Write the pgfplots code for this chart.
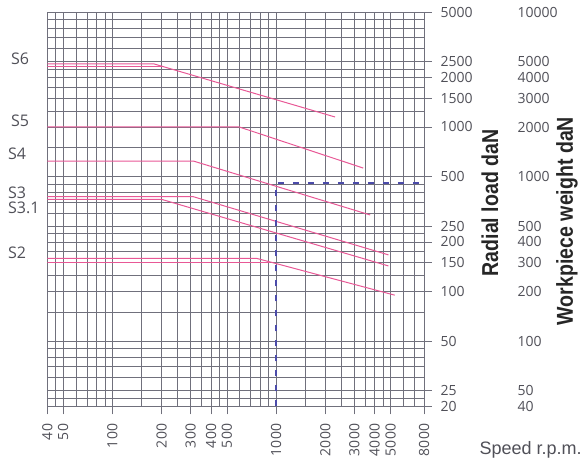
\documentclass[border=0pt]{standalone}
\usepackage{pgfplots}
\pgfplotsset{compat=1.18}
\usepackage{fontspec}
\setmainfont{Open Sans}
\newfontfamily\labfont{Liberation Sans}
\newfontfamily\boldcond[FakeStretch=0.85]{Liberation Sans Bold}
\definecolor{gridc}{RGB}{112,112,124}
\definecolor{pinkc}{RGB}{232,88,150}
\definecolor{dashc}{RGB}{75,75,170}
\definecolor{txtc}{RGB}{80,80,88}
\begin{document}
\begin{tikzpicture}
\path[use as bounding box] (0,0) rectangle (581bp,466bp);
\begin{axis}[
  scale only axis, width=376.7bp, height=394.5bp,
  at={(47.3bp,59.5bp)}, anchor=south west,
  xmode=log, ymode=log,
  xmin=40, xmax=8000, ymin=20, ymax=5000,
  xtick={40,50,100,200,300,400,500,1000,2000,3000,4000,5000,8000},
  xticklabels={40,50,100,200,300,400,500,1000,2000,3000,4000,5000,8000},
  minor xtick={45,60,70,80,90,150,250,350,450,600,700,800,900,1500,2500,3500,4500,6000,7000},
  ytick={20,25,50,100,150,200,250,500,1000,1500,2000,2500,5000},
  yticklabels={20,25,50,100,150,200,250,500,1000,1500,2000,2500,5000},
  minor ytick={22.5,30,35,40,45,75,125,175,225,300,350,400,450,750,1250,1750,2250,3000,3500,4000,4500},
  grid=both,
  major grid style={draw=gridc, line width=0.7bp},
  minor grid style={draw=gridc, line width=0.7bp},
  axis line style={draw=gridc, line width=0.7bp},
  tick style={draw=gridc, line width=0.7bp},
  tick align=outside, major tick length=8bp, minor tick length=0pt,
  xtick pos=bottom, ytick pos=right, yticklabel pos=right,
  xticklabel shift=6bp, yticklabel shift=5bp,
  /pgf/number format/assume math mode=true,
  xticklabel style={rotate=90, anchor=east, font=\fontsize{14bp}{16bp}\selectfont, text=txtc},
  yticklabel style={anchor=west, font=\fontsize{14bp}{16bp}\selectfont, text=txtc},
]
\addplot[pinkc, line width=1bp] coordinates {(40,2415) (180,2415) (2290,1150)};
\addplot[pinkc, line width=0.8bp] coordinates {(40,2320) (207,2320)};
\addplot[pinkc, line width=1bp] coordinates {(40,1000) (595,1000) (3400,563)};
\addplot[pinkc, line width=1bp] coordinates {(40,621) (312,621) (3750,292)};
\addplot[pinkc, line width=1bp] coordinates {(40,377) (312,377) (4850,167)};
\addplot[pinkc, line width=1bp] coordinates {(40,363) (200,363) (4850,143)};
\addplot[pinkc, line width=1bp] coordinates {(40,159) (760,159) (5300,95)};
\addplot[pinkc, line width=0.8bp] coordinates {(40,151) (923,151)};
\addplot[dashc, line width=1.5bp, dash pattern=on 6bp off 9bp] coordinates {(1000,20) (1000,456) (8000,456)};
\end{axis}
\begin{axis}[
  scale only axis, width=376.7bp, height=394.5bp,
  at={(47.3bp,59.5bp)}, anchor=south west,
  xmode=log, ymode=log,
  xmin=40, xmax=8000, ymin=40, ymax=10000,
  hide x axis,
  axis y line=right, y axis line style={draw=none},
  ytick={40,50,100,200,300,400,500,1000,2000,3000,4000,5000,10000},
  yticklabels={40,50,100,200,300,400,500,1000,2000,3000,4000,5000,10000},
  ytick style={draw=none}, major tick length=0pt,
  /pgf/number format/assume math mode=true,
  yticklabel style={anchor=west, xshift=90bp, font=\fontsize{14bp}{16bp}\selectfont, text=txtc},
]
\addplot[draw=none] coordinates {(40,40)};
\end{axis}
\node[rotate=90, text=black!85, font=\boldcond\fontsize{23bp}{26bp}\selectfont] at (490bp,263bp) {Radial load daN};
\node[rotate=90, text=black!85, font=\boldcond\fontsize{23bp}{26bp}\selectfont] at (567bp,245bp) {Workpiece weight daN};
\node[anchor=west, text=txtc, font=\labfont\fontsize{18bp}{20bp}\selectfont] at (476bp,16bp) {Speed r.p.m.};
\begin{scope}[every node/.style={anchor=west, text=txtc, font=\fontsize{16bp}{18bp}\selectfont, inner sep=0pt}]
\node at (11bp,407bp) {S6};
\node at (11bp,345bp) {S5};
\node at (8bp,312bp) {S4};
\node at (8bp,273.5bp) {S3};
\node at (8bp,258.5bp) {S3.1};
\node at (8bp,213.5bp) {S2};
\end{scope}
\end{tikzpicture}
\end{document}
